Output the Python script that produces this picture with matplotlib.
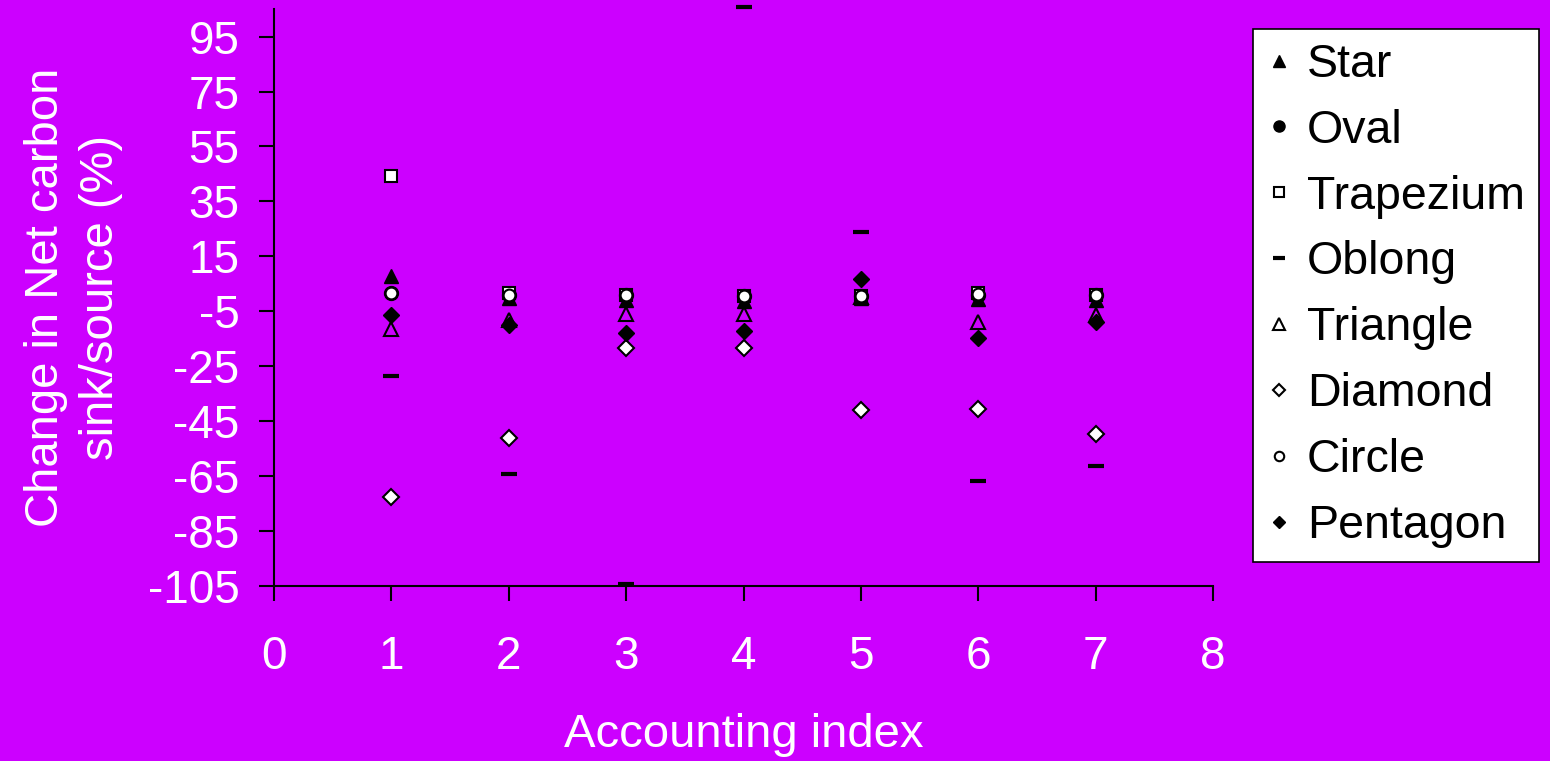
import matplotlib

matplotlib.use("Agg")
import matplotlib.pyplot as plt

plt.rcParams["font.family"] = ["Liberation Sans", "DejaVu Sans"]
plt.rcParams["axes.unicode_minus"] = False

BG = "#CC00FF"

x_index = [1, 2, 3, 4, 5, 6, 7]

star = [7.7, 0.0, -0.8, -1.4, -0.3, -0.5, -0.8]
oval = [1.6, 1.0, 0.8, 0.4, 0.4, 1.0, 0.8]
trapezium = [44.1, 1.5, 0.9, 0.6, 0.6, 1.6, 0.9]
oblong = [-28.7, -64.4, -104.3, 105.7, 23.8, -66.7, -61.4]
triangle = [-11.4, -8.1, -5.9, -6.0, 0.2, -8.9, -6.3]
diamond = [-72.7, -51.3, -18.5, -18.5, -41.1, -40.5, -49.5]
circle = [1.6, 1.0, 0.8, 0.4, 0.4, 1.2, 0.8]
pentagon = [-6.5, -9.9, -13.0, -12.0, 6.7, -14.8, -9.0]

y_ticks = list(range(-105, 96, 20))
x_ticks = list(range(0, 9))

# name, values, marker, size, face colour, edge width
series = [
    ("Star", star, "^", 10, "black", 1.0),
    ("Oval", oval, "o", 10, "black", 1.0),
    ("Trapezium", trapezium, "s", 9, "white", 1.5),
    ("Oblong", oblong, "_", 11, "black", 3.0),
    ("Triangle", triangle, "^", 10, "none", 1.5),
    ("Diamond", diamond, "D", 8, "white", 1.5),
    ("Circle", circle, "o", 8.5, "white", 1.5),
    ("Pentagon", pentagon, "D", 8, "black", 1.0),
]

fig = plt.figure(figsize=(15.5, 7.61), dpi=100, facecolor=BG)
ax = fig.add_axes([0.1768, 0.23, 0.6058, 0.758], facecolor=BG)

for name, vals, mk, ms, fc, mew in series:
    ax.plot(x_index, vals, linestyle="none", marker=mk, ms=ms,
            markerfacecolor=fc, markeredgecolor="black", markeredgewidth=mew,
            color="black", label=name, clip_on=False)

ax.set_xlim(0, 8)
ax.set_ylim(-105, 105)
ax.set_xticks(x_ticks)
ax.set_yticks(y_ticks)

for side in ("top", "right"):
    ax.spines[side].set_visible(False)
for side in ("left", "bottom"):
    ax.spines[side].set_linewidth(1.5)
    ax.spines[side].set_color("black")

ax.tick_params(axis="both", direction="out", length=11, width=1.5,
               color="black", labelcolor="white", labelsize=33)
ax.tick_params(axis="x", pad=24)
ax.tick_params(axis="y", pad=14)

ax.set_xlabel("Accounting index", color="white", fontsize=34, labelpad=25)
ax.set_ylabel("Change in Net carbon\nsink/source (%)", color="white",
              fontsize=34, labelpad=18, linespacing=1.3)

leg = fig.legend(loc="upper left", bbox_to_anchor=(0.8085, 0.962),
                 fontsize=33.5, frameon=True, fancybox=False, markerscale=0.8,
                 handlelength=0.5, handletextpad=0.35, labelspacing=0.47,
                 borderpad=0.3, borderaxespad=0)
leg.get_frame().set_facecolor("white")
leg.get_frame().set_edgecolor("black")
leg.get_frame().set_linewidth(1.2)
leg.get_frame().set_alpha(1)

fig.savefig("out.png", dpi=100, facecolor=BG)
plt.close(fig)
